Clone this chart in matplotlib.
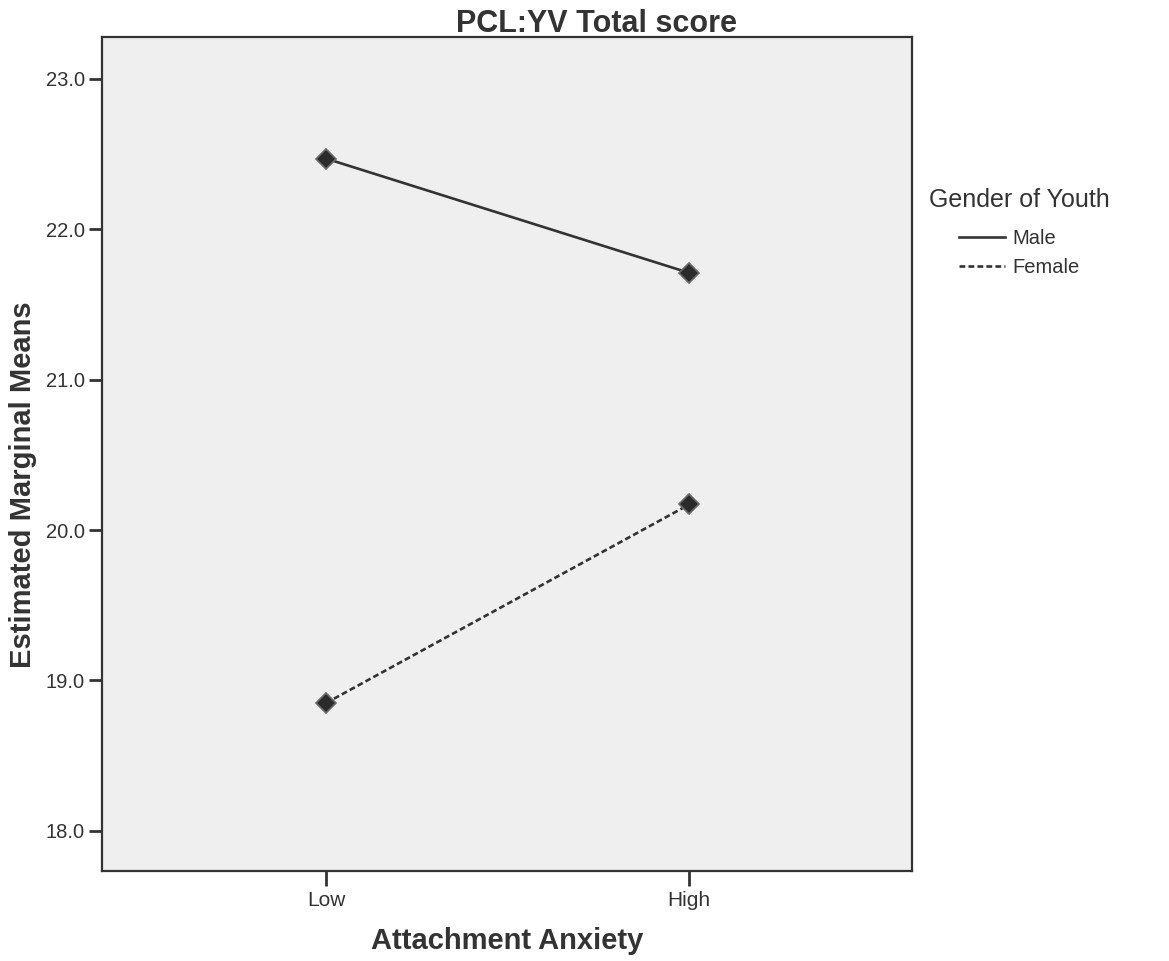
import matplotlib
matplotlib.use("Agg")
from matplotlib import pyplot as plt

# Estimated marginal means
anxiety_levels = ["Low", "High"]
male_means = [22.47, 21.71]
female_means = [18.85, 20.17]
y_ticks = [18.0, 19.0, 20.0, 21.0, 22.0, 23.0]

plt.rcParams['font.family'] = ['Liberation Sans', 'DejaVu Sans']

fig = plt.figure(figsize=(11.69, 9.61), dpi=100)
ax = fig.add_axes([0.0873, 0.0937, 0.693, 0.868])
ax.set_facecolor('#efefef')

x = list(range(len(anxiety_levels)))
ax.plot(x, male_means, color='#333333', lw=1.9, ls='-', marker='D', ms=10.5,
        mfc='#2b2b2b', mec='#6a6a6a', mew=1.2, label='Male')
ax.plot(x, female_means, color='#333333', lw=1.9, ls=(0, (2.2, 1.2)), marker='D', ms=10.5,
        mfc='#2b2b2b', mec='#6a6a6a', mew=1.2, label='Female')

ax.set_xlim(-0.617, 1.614)
ax.set_ylim(17.733, 23.28)
ax.set_xticks(x)
ax.set_xticklabels(anxiety_levels, fontsize=15)
ax.set_yticks(y_ticks)
ax.set_yticklabels([f"{v:.1f}" for v in y_ticks], fontsize=14.5)
ax.tick_params(axis='x', direction='out', length=10.5, width=2, color='#333333',
               labelcolor='#333333', pad=4)
ax.tick_params(axis='y', direction='out', length=9.5, width=2, color='#333333',
               labelcolor='#333333', pad=3)

for s in ax.spines.values():
    s.set_color('#333333')
    s.set_linewidth(1.6)

ax.set_xlabel("Attachment Anxiety", fontsize=21, fontweight='bold', color='#333333', labelpad=12)
ax.set_ylabel("Estimated Marginal Means", fontsize=21, fontweight='bold', color='#333333')
ax.yaxis.set_label_coords(-0.080, 0.463)

fig.text(596 / 1169, 1 - 32 / 961, "PCL:YV Total score", fontsize=22, fontweight='bold',
         color='#333333', ha='center', va='baseline')

# Legend to the right of the plot
fig.text(1019 / 1169, 1 - 207 / 961, "Gender of Youth", fontsize=18, color='#333333',
         ha='center', va='baseline')
leg = ax.legend(loc='upper center', bbox_to_anchor=(1019 / 1169, 1 - 211 / 961),
                bbox_transform=fig.transFigure, frameon=False, fontsize=14.5,
                handlelength=2.3, handletextpad=0.35, labelspacing=0.5)
for h in leg.legend_handles:
    h.set_marker('')
for t in leg.get_texts():
    t.set_color('#333333')

fig.savefig("out.png", dpi=100)
